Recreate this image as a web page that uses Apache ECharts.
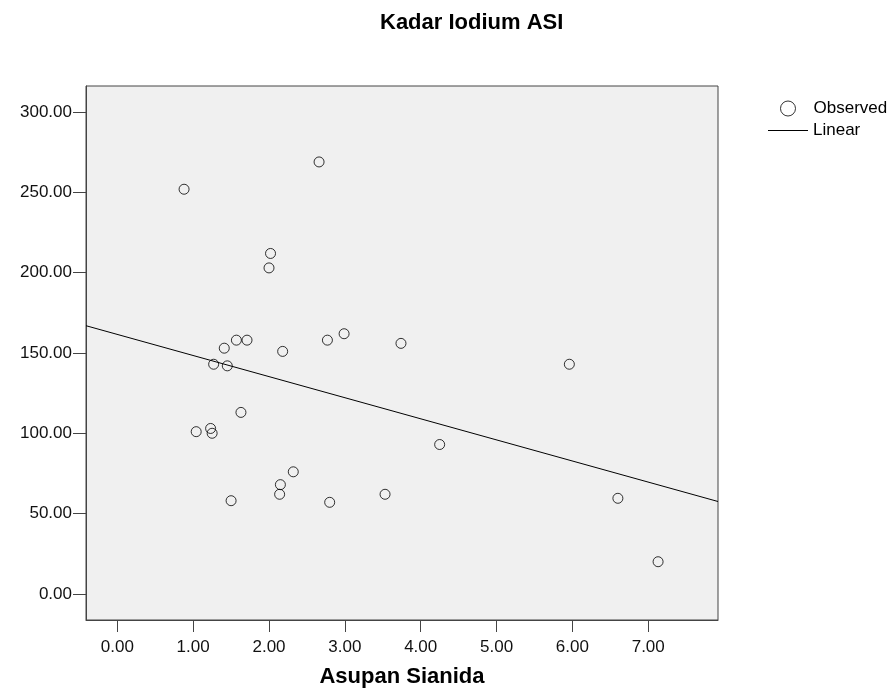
<!DOCTYPE html>
<html lang="en">
<head>
<meta charset="UTF-8">
<title>Kadar Iodium ASI</title>
<style>
  html, body { margin: 0; padding: 0; background: #fff; }
  #main { width: 891px; height: 693px; }
</style>
</head>
<body>
<div id="main"></div>
<script src="https://cdn.jsdelivr.net/npm/echarts@6/dist/echarts.min.js"></script>
<script>
// observed points
var asupanSianida = [0.88, 2.66, 2.02, 2.00, 2.77, 2.99, 3.74, 5.96, 2.18, 1.71, 1.57, 1.41, 1.27, 1.45,
                     1.04, 1.23, 1.25, 1.63, 1.50, 2.15, 2.14, 2.32, 2.80, 3.53, 4.25, 6.60, 7.13];
var kadarIodium = [252, 269, 212, 203, 158, 162, 156, 143, 151, 158, 158, 153, 143, 142,
                   101, 103, 100, 113, 58, 68, 62, 76, 57, 62, 93, 59.5, 20];

// fitted linear line, ends at the plot edges
var lineX = [-0.413, 7.92];
var lineY = [167, 57.5];

var xTicks = [0, 1, 2, 3, 4, 5, 6, 7];
var yTicks = [0, 50, 100, 150, 200, 250, 300];

var font = 'Liberation Sans';
var points = asupanSianida.map(function (x, i) { return [x, kadarIodium[i]]; });
var linePts = lineX.map(function (x, i) { return [x, lineY[i]]; });

var chart = echarts.init(document.getElementById('main'));
var option = {
    backgroundColor: '#fff',
    animation: false,
    title: {
        text: 'Kadar Iodium ASI',
        left: 375,
        top: 7,
        textStyle: { fontFamily: font, fontSize: 22, fontWeight: 'bold', color: '#000' }
    },
    legend: [
        {
            data: ['Observed'],
            left: 780,
            top: 100,
            padding: 0,
            itemWidth: 15,
            itemHeight: 15,
            icon: 'circle',
            itemStyle: { color: 'transparent', borderColor: '#000', borderWidth: 1 },
            textStyle: { fontFamily: font, fontSize: 17, color: '#000', padding: [0, 0, 0, 13] }
        },
        {
            data: ['Linear'],
            left: 768,
            top: 122,
            padding: 0,
            itemWidth: 40,
            itemHeight: 1,
            icon: 'rect',
            itemStyle: { color: '#000' },
            textStyle: { fontFamily: font, fontSize: 17, color: '#000' }
        }
    ],
    grid: {
        left: 86, right: 173, top: 86, bottom: 71,
        show: true,
        backgroundColor: '#f0f0f0',
        borderColor: '#444',
        borderWidth: 1
    },
    xAxis: {
        type: 'value',
        min: -0.413,
        max: 7.92,
        name: 'Asupan Sianida',
        nameLocation: 'middle',
        nameGap: 46,
        nameTextStyle: { fontFamily: font, fontSize: 22, fontWeight: 'bold', color: '#000' },
        axisLine: { show: true, onZero: false, lineStyle: { color: '#444', width: 1 } },
        axisTick: { show: true, length: 12, customValues: xTicks, lineStyle: { color: '#444' } },
        axisLabel: {
            customValues: xTicks,
            margin: 19,
            fontFamily: font, fontSize: 17, color: '#111',
            formatter: function (v) { return v.toFixed(2); }
        },
        splitLine: { show: false }
    },
    yAxis: {
        type: 'value',
        min: -16.3,
        max: 316.3,
        axisLine: { show: true, onZero: false, lineStyle: { color: '#444', width: 1 } },
        axisTick: { show: true, length: 13, customValues: yTicks, lineStyle: { color: '#444' } },
        axisLabel: {
            customValues: yTicks,
            margin: 14,
            fontFamily: font, fontSize: 17, color: '#111',
            formatter: function (v) { return v.toFixed(2); }
        },
        splitLine: { show: false }
    },
    series: [
        {
            name: 'Observed',
            type: 'scatter',
            symbol: 'circle',
            symbolSize: 10,
            itemStyle: { color: 'transparent', borderColor: '#000', borderWidth: 1 },
            data: points,
            z: 3
        },
        {
            name: 'Linear',
            type: 'line',
            showSymbol: false,
            lineStyle: { color: '#000', width: 1 },
            itemStyle: { color: '#000' },
            data: linePts,
            z: 2
        }
    ]
};
chart.setOption(option);
</script>
</body>
</html>
